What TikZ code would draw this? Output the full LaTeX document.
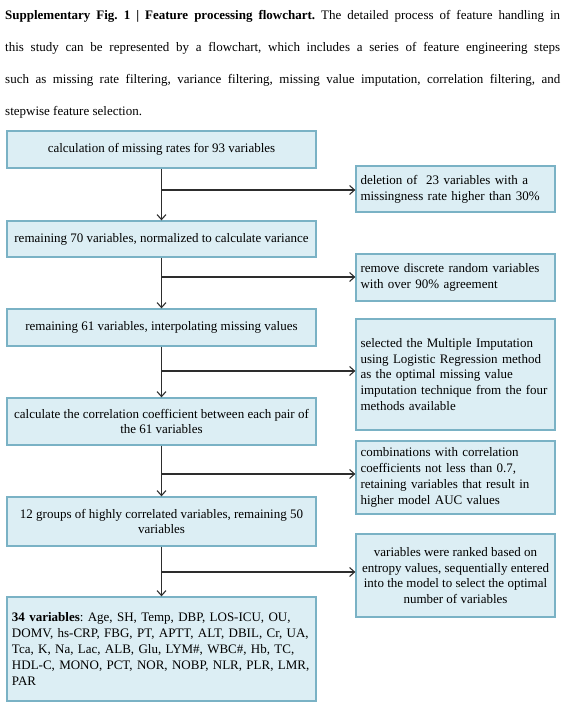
\documentclass[tikz,border=0pt]{standalone}
\usepackage{fontspec}
\setmainfont{Liberation Serif}
\usetikzlibrary{arrows.meta}
\definecolor{boxfill}{RGB}{220,238,244}
\definecolor{boxline}{RGB}{122,178,197}
\definecolor{arrowc}{RGB}{45,45,45}
\frenchspacing
\begin{document}
\begin{tikzpicture}[x=1pt,y=1pt,
  box/.style={draw=boxline, fill=boxfill, line width=1.3pt, inner ysep=0pt, font=\fontsize{13}{15.8}\selectfont},
  lbox/.style={box, minimum width=309pt, inner xsep=1pt, align=center},
  rbox/.style={box, text width=190pt, align=left, inner xsep=4.5pt},
  rcbox/.style={box, minimum width=199pt, inner xsep=1pt, align=center},
  flow/.style={draw=arrowc, line width=1.1pt, -{Straight Barb[length=5pt,width=9pt]}}]
\useasboundingbox (0,0) rectangle (566,-706);
\node[anchor=north west, inner sep=0pt, text width=555pt, align=justify, font=\fontsize{13}{32}\selectfont] (cap) at (5,-10)
 {\textbf{Supplementary Fig. 1 | Feature processing flowchart.} The detailed process of feature handling in\linebreak
 this study can be represented by a flowchart, which includes a series of feature engineering steps\linebreak
 such as missing rate filtering, variance filtering, missing value imputation, correlation filtering, and\linebreak
 stepwise feature selection.};
% left column
\node[lbox, minimum height=37pt] (b1) at (161.5,-149.5) {calculation of missing rates for 93 variables};
\node[lbox, minimum height=36pt] (b2) at (161.5,-239) {remaining 70 variables, normalized to calculate variance};
\node[lbox, minimum height=37pt] (b3) at (161.5,-327.5) {remaining 61 variables, interpolating missing values};
\node[lbox, minimum height=47pt] (b4) at (161.5,-421.5) {calculate the correlation coefficient between each pair of\\the 61 variables};
\node[lbox, minimum height=49pt] (b5) at (161.5,-521.5) {12 groups of highly correlated variables, remaining 50\\variables};
\node[box, text width=299pt, inner xsep=5pt, minimum height=104pt, align=left] (b6) at (161.5,-649) {\textbf{34 variables}: Age, SH, Temp, DBP, LOS-ICU, OU,\\DOMV, hs-CRP, FBG, PT, APTT, ALT, DBIL, Cr, UA,\\Tca, K, Na, Lac, ALB, Glu, LYM\#, WBC\#, Hb, TC,\\HDL-C, MONO, PCT, NOR, NOBP, NLR, PLR, LMR,\\PAR};
% right column
\node[rbox, minimum height=46pt] (r1) at (455.5,-189) {\mbox{deletion of\ \ 23 variables with a}\\\mbox{missingness rate higher than 30\%}};
\node[rbox, minimum height=47pt] (r2) at (455.5,-277.5) {\mbox{remove discrete random variables}\\\mbox{with over 90\% agreement}};
\node[rbox, minimum height=111pt] (r3) at (455.5,-374.5) {\mbox{selected the Multiple Imputation}\\\mbox{using Logistic Regression method}\\\mbox{as the optimal missing value}\\\mbox{imputation technique from the four}\\\mbox{methods available}};
\node[rbox, minimum height=73pt] (r4) at (455.5,-477.5) {\mbox{combinations with correlation}\\\mbox{coefficients not less than 0.7,}\\\mbox{retaining variables that result in}\\\mbox{higher model AUC values}};
\node[rcbox, minimum height=83pt] (r5) at (455.5,-575.5) {variables were ranked based on\\entropy values, sequentially entered\\into the model to select the optimal\\number of variables};
% junctions
\coordinate (j1) at (161.5,-190);
\coordinate (j2) at (161.5,-277);
\coordinate (j3) at (161.5,-371);
\coordinate (j4) at (161.5,-474);
\coordinate (j5) at (161.5,-572);
% connectors
\draw[flow] (b1.south) -- (b2.north);
\draw[flow] (b2.south) -- (b3.north);
\draw[flow] (b3.south) -- (b4.north);
\draw[flow] (b4.south) -- (b5.north);
\draw[flow] (b5.south) -- (b6.north);
\draw[flow] (j1) -- (j1 -| r1.west);
\draw[flow] (j2) -- (j2 -| r2.west);
\draw[flow] (j3) -- (j3 -| r3.west);
\draw[flow] (j4) -- (j4 -| r4.west);
\draw[flow] (j5) -- (j5 -| r5.west);
\end{tikzpicture}
\end{document}
